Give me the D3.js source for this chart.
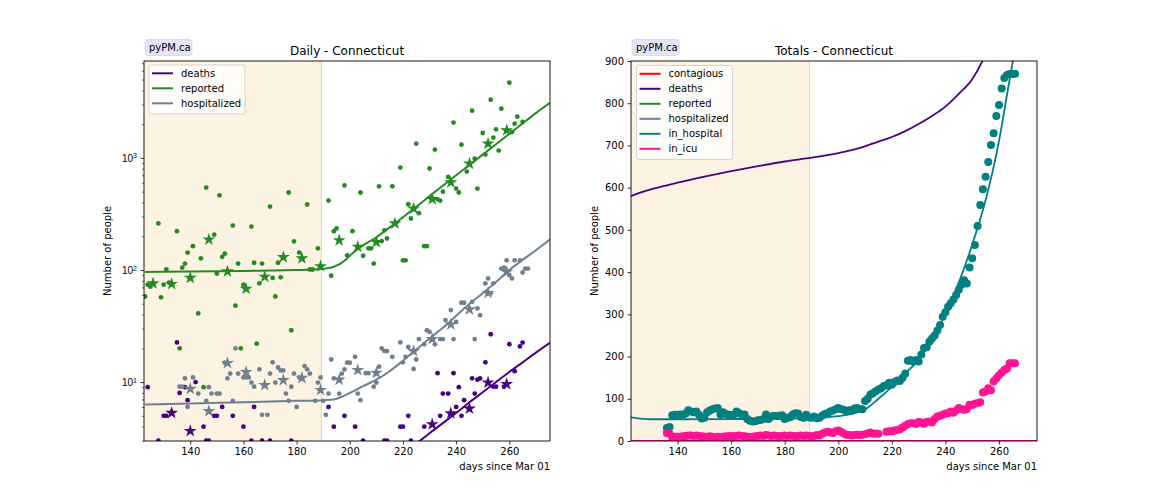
<!DOCTYPE html>
<html><head><meta charset="utf-8">
<script src="https://cdn.jsdelivr.net/npm/d3@7"></script>
<style>body{margin:0;background:#fff;} svg{display:block;font-family:"DejaVu Sans",sans-serif;}</style>
</head><body><svg id="c" width="1152" height="504"></svg>
<script>
// ---------------- data ----------------
const xTicks = [140, 160, 180, 200, 220, 240, 260];
const yTicksTotals = [0, 100, 200, 300, 400, 500, 600, 700, 800, 900];
const yTicksDailyMajor = [10, 100, 1000];
const shadeEndDay = 189.3;

const dailyLegend = ["deaths", "reported", "hospitalized"];
const totalsLegend = ["contagious", "deaths", "reported", "hospitalized", "in_hospital", "in_icu"];

// Daily panel: model lines
const reportedModel = [[123,96],[130,96.5],[140,97],[150,97.5],[160,98],[170,99],[180,100],[186,101],[189,102],[192,104],[194,107],[196,112],[198,121],[200,134],[202,148],[205,166],[210,196],[215,240],[220,296],[225,366],[230,456],[235,565],[240,700],[245,863],[250,1070],[255,1325],[260,1640],[265,2030],[270,2510],[275.3,3100]];
const hospitalizedModel = [[123,6.3],[140,6.45],[160,6.6],[180,6.8],[190,6.9],[194,7.0],[197,7.4],[200,8.0],[205,9.2],[210,10.5],[215,12.5],[220,15.5],[225,19.5],[230,24.5],[235,30.5],[240,39],[245,50],[250,62],[255,78],[260,100],[265,123],[270,150],[275.3,187]];
const deathsModel = [[215,1.9],[220,2.35],[226,2.95],[230,3.5],[235,4.3],[240,5.3],[245,6.6],[250,8.1],[255,10.0],[260,12.3],[265,15.0],[270,18.3],[275.3,22.4]];

// Daily panel: daily data
const reportedDaily = [[123,58],[124,74],[125,71],[128,260],[129,57],[130,74],[131,101],[132,77],[135,222],[136,20],[137,105],[138,114],[139,143],[141,163],[143,41],[144,127],[145,9],[146,543],[149,207],[150,93],[151,464],[152,131],[153,140],[156,249],[157,48],[158,114],[159,20],[160,74],[163,244],[164,116],[165,22],[166,76],[167,114],[170,368],[171,85],[172,58],[173,116],[174,86],[177,491],[178,29],[179,180],[181,143],[184,384],[185,101],[186,101],[188,156],[192,416],[193,89],[194,222],[195,235],[198,568],[199,135],[201,222],[204,491],[205,134],[207,156],[208,156],[209,114],[211,558],[212,181],[213,226],[214,191],[216,558],[219,820],[220,122],[221,122],[222,386],[223,288],[225,1340],[226,321],[228,163],[229,163],[230,804],[232,1186],[233,427],[234,416],[235,500],[237,677],[239,2065],[240,532],[241,491],[242,1312],[244,755],[246,2640],[247,986],[248,532],[250,1667],[251,1070],[253,3310],[254,1517],[255,1800],[256,1162],[257,2750],[260,4690],[261,1700],[262,2020],[263,2330],[265,2090]];
const hospitalizedDaily = [[136,9.1],[137,9.1],[138,10.8],[139,6.0],[141,11],[143,7.9],[146,6.8],[147,9.0],[148,7.9],[150,7.9],[151,7.9],[153,14.9],[154,10.8],[155,11.9],[156,6.8],[157,20],[158,11.9],[160,11],[161,11],[162,11],[163,9.9],[164,9.1],[166,13],[167,5.1],[169,5.1],[170,11.9],[171,15],[172,9.9],[173,13.5],[174,12.7],[175,12.7],[176,7.9],[177,6.8],[178,9.1],[179,11.9],[180,6.0],[181,11],[183,13.9],[184,13],[185,11.9],[187,6.8],[188,9.9],[189,11],[190,6.8],[191,5.1],[192,7.9],[193,15.9],[194,10.8],[196,7.9],[197,11.9],[198,13],[199,14.9],[200,14.9],[202,16.8],[203,7.9],[204,6.9],[206,12],[207,12],[209,9.1],[210,9.9],[211,13.7],[212,20],[213,18.9],[214,18.9],[216,16.8],[219,22.6],[220,15],[221,16.8],[222,20.6],[224,13.1],[225,15.9],[226,24.2],[228,21.7],[229,29],[230,28],[232,21.7],[234,24.2],[235,24.2],[236,35.7],[238,43.9],[239,24.2],[240,34.4],[242,51],[243,51],[246,52],[247,24.2],[248,45.4],[249,39.5],[251,75.9],[252,84],[253,62],[254,76],[257,103],[258,105],[259,122],[260,90],[261,84],[262,122],[264,122],[265,95],[266,103],[267,103]];
const deathsDaily = [[124,9],[128,3],[130,5],[131,5],[135,22.6],[136,8],[138,9],[139,6.9],[142,10],[145,4],[146,3],[147,3],[149,5],[150,5],[152,6],[156,5],[160,4],[163,3],[164,6],[167,3],[170,3],[178,3],[192,6],[194,4],[198,5],[202,4],[205,3],[213,3],[214,3],[219,4],[220,4],[222,5],[223,3],[228,4],[233,12],[234,5],[235,7.9],[237,7.9],[239,12],[240,6],[241,9],[242,5],[243,6.9],[246,10.8],[247,7.9],[248,10.5],[249,10.8],[251,15],[253,26.7],[254,9.1],[255,9.1],[258,9.1],[260,21.8],[262,12.5],[264,20.8],[265,22.5]];

// Daily panel: weekly averages (stars)
const reportedWeekly = [[126,76],[133,75],[140,85],[147,187],[154,97],[161,68],[168,87],[175,130],[182,127],[189,108],[196,184],[203,161],[210,177],[217,260],[224,353],[231,428],[238,605],[245,889],[252,1340],[259,1762]];
const hospitalizedWeekly = [[140,8.7],[147,5.5],[154,14.8],[161,12.3],[168,9.4],[175,10.4],[182,10.9],[189,8.5],[196,10.5],[203,12.8],[210,12.1],[224,18.9],[231,24.2],[238,32.7],[245,44.5],[252,62.3],[259,96]];
const deathsWeekly = [[133,5.3],[140,3.66],[231,4.2],[238,5.26],[245,5.8],[252,9.9],[259,9.6]];

// Totals panel: model lines
const deathsTotalModel = [[122.6,580],[125,586],[130,596],[135,604],[140,612],[145,619],[150,626],[160,639],[170,651],[180,662],[190,671],[200,682],[205,689],[210,698],[215,709],[220,720],[225,734],[230,751],[235,770],[240,792],[245,822],[250,857],[254,902],[256,930]];
const inHospitalModel = [[122.6,56],[126,53],[130,51.5],[140,51.5],[160,52],[180,53],[190,54],[195,56],[200,59],[205,64],[210,75],[215,100],[220,128],[225,160],[230,192],[235,240],[240,300],[245,375],[250,465],[255,570],[260,710],[263,820],[266,930]];
const inIcuModel = [[122.6,0],[274.2,0]];

// Totals panel: data
const inHospitalData = [[136,31],[137,33],[138,61],[139,62],[140,62],[141,63],[142,62],[143,65],[144,73],[145,70],[146,68],[147,70],[148,62],[149,53],[150,55],[151,68],[152,72],[153,75],[154,77],[155,78],[156,63],[157,68],[158,64],[159,62],[160,61],[161,62],[162,70],[163,66],[164,62],[165,63],[166,52],[167,48],[168,46],[169,47],[170,49],[171,50],[172,52],[173,63],[174,52],[175,58],[176,60],[177,59],[178,60],[179,61],[180,52],[181,55],[182,56],[183,63],[184,66],[185,65],[186,57],[187,55],[188,62],[189,56],[190,55],[191,58],[192,54],[193,55],[194,60],[195,64],[196,66],[197,70],[198,72],[199,75],[200,78],[201,75],[202,74],[203,71],[204,73],[205,72],[206,77],[207,78],[208,76],[209,75],[210,95],[211,100],[212,110],[213,113],[214,118],[215,122],[216,125],[217,130],[218,132],[219,138],[220,133],[221,140],[222,143],[223,142],[224,150],[225,160],[226,190],[227,192],[228,188],[229,192],[230,188],[231,205],[232,220],[233,222],[234,235],[235,243],[236,250],[237,262],[238,275],[239,294],[240,305],[241,318],[242,326],[243,335],[244,346],[245,358],[246,370],[247,381],[248,373],[249,411],[250,433],[251,464],[252,509],[253,559],[254,596],[255,626],[256,661],[257,701],[258,729],[259,770],[260,796],[261,835],[262,860],[263,867],[264,869],[265,869],[266,870]];
const inIcuData = [[136,19],[137,17],[138,9],[139,10],[140,10],[141,10],[142,11],[143,12],[144,13],[145,13],[146,12],[147,13],[148,12],[149,11],[150,10],[151,10],[152,11],[153,10],[154,9],[155,10],[156,9],[157,10],[158,11],[159,11],[160,12],[161,11],[162,12],[163,13],[164,12],[165,11],[166,10],[167,9],[168,10],[169,11],[170,12],[171,13],[172,12],[173,14],[174,13],[175,12],[176,13],[177,12],[178,11],[179,12],[180,13],[181,12],[182,13],[183,12],[184,11],[185,12],[186,13],[187,12],[188,13],[189,12],[190,11],[191,12],[192,14],[193,13],[194,17],[195,20],[196,22],[197,20],[198,19],[199,23],[200,25],[201,22],[202,18],[203,15],[204,14],[205,13],[206,14],[207,15],[208,14],[209,15],[210,16],[211,18],[212,20],[213,17],[214,18],[215,17],[218,22],[219,23],[220,23],[221,25],[222,26],[223,28],[224,32],[225,36],[226,40],[227,42],[228,42],[229,40],[230,45],[231,44],[232,41],[233,45],[234,46],[235,44],[236,52],[237,58],[238,60],[239,62],[240,65],[241,66],[242,70],[243,67],[244,72],[245,78],[246,76],[247,74],[248,76],[249,86],[250,85],[251,88],[252,90],[253,92],[254,115],[255,117],[256,125],[257,120],[258,141],[259,148],[260,156],[261,162],[262,168],[263,172],[264,184],[265,184],[266,184]];

// ---------------- styles ----------------
const COL = {deaths:"#4b0082", reported:"#228b22", hospitalized:"#708090", contagious:"#ff0000", in_hospital:"#008080", in_icu:"#ff1493"};

const svg = d3.select("#c");
const L = {x0:144, x1:550, y0:61, y1:441};
const R = {x0:631, x1:1037, y0:61, y1:441};

const xL = d3.scaleLinear([122.6, 275.3], [L.x0, L.x1]);
const yL = d3.scaleLog([2.98, 7320], [L.y1, L.y0]);
const xR = d3.scaleLinear([122.6, 274.2], [R.x0, R.x1]);
const yR = d3.scaleLinear([0, 900], [R.y1, R.y0]);

const defs = svg.append("defs");
defs.append("clipPath").attr("id","clipL").append("rect").attr("x",L.x0).attr("y",L.y0).attr("width",L.x1-L.x0).attr("height",L.y1-L.y0);
defs.append("clipPath").attr("id","clipR").append("rect").attr("x",R.x0).attr("y",R.y0).attr("width",R.x1-R.x0).attr("height",R.y1-R.y0);

function panelBase(P, x, title) {
  svg.append("rect").attr("x",P.x0).attr("y",P.y0).attr("width",x(shadeEndDay)-P.x0).attr("height",P.y1-P.y0)
     .attr("fill","#fdf3e2");
  svg.append("line").attr("x1",x(shadeEndDay)).attr("x2",x(shadeEndDay)).attr("y1",P.y0).attr("y2",P.y1)
     .attr("stroke","#ead3b1").attr("stroke-width",1);
  svg.append("text").attr("x",(P.x0+P.x1)/2).attr("y",54.5).attr("text-anchor","middle")
     .attr("font-size","12px").attr("fill","#000").text(title);
  svg.append("text").attr("transform",`translate(${P.x0-33},${(P.y0+P.y1)/2}) rotate(-90)`)
     .attr("text-anchor","middle").attr("font-size","10px").attr("fill","#000").text("Number of people");
  svg.append("text").attr("x",P.x1).attr("y",470).attr("text-anchor","end")
     .attr("font-size","10px").attr("fill","#000").text("days since Mar 01");
  svg.append("rect").attr("x",P.x0+1).attr("y",39.5).attr("width",47).attr("height",16).attr("rx",3)
     .attr("fill","#e4e4f8").attr("stroke","#d2d2ee").attr("stroke-width",0.8);
  svg.append("text").attr("x",P.x0+5).attr("y",51).attr("font-size","10px").attr("fill","#000").text("pyPM.ca");
}

panelBase(L, xL, "Daily - Connecticut");
panelBase(R, xR, "Totals - Connecticut");

function styleAxis(g) {
  g.select(".domain").remove();
  g.selectAll(".tick line").attr("stroke","#000").attr("stroke-width",0.8);
  g.selectAll(".tick text").attr("font-size","10px").attr("fill","#000").attr("font-family","DejaVu Sans, sans-serif");
}

[[L,xL],[R,xR]].forEach(([P,x]) => {
  const g = svg.append("g").attr("transform",`translate(0,${P.y1})`)
    .call(d3.axisBottom(x).tickValues(xTicks).tickFormat(d3.format("d")).tickSize(3.5).tickPadding(3.5));
  styleAxis(g);
});

{
  const g = svg.append("g").attr("transform",`translate(${R.x0},0)`)
    .call(d3.axisLeft(yR).tickValues(yTicksTotals).tickFormat(d3.format("d")).tickSize(3.5).tickPadding(3.5));
  styleAxis(g);
}
{
  const minor = [];
  [1,10,100,1000].forEach(b => { for (let k=2;k<=9;k++){ const v=b*k; if (v>=2.98 && v<=7320) minor.push(v);} });
  const gm = svg.append("g").attr("transform",`translate(${L.x0},0)`)
    .call(d3.axisLeft(yL).tickValues(minor).tickFormat("").tickSize(2));
  styleAxis(gm);
  gm.selectAll(".tick line").attr("stroke-width",0.6);
  const g = svg.append("g").attr("transform",`translate(${L.x0},0)`)
    .call(d3.axisLeft(yL).tickValues(yTicksDailyMajor).tickFormat("").tickSize(3.5).tickPadding(3.5));
  styleAxis(g);
  g.selectAll(".tick").each(function(d){
    const t = d3.select(this).append("text").attr("x",-7).attr("dy","0.32em").attr("text-anchor","end")
      .attr("font-size","10px").attr("fill","#000");
    t.append("tspan").text("10");
    t.append("tspan").attr("dy","-0.45em").attr("font-size","7px").text(String(Math.round(Math.log10(d))));
  });
}

const gL = svg.append("g").attr("clip-path","url(#clipL)");
const lineL = d3.line().x(d=>xL(d[0])).y(d=>yL(d[1])).curve(d3.curveMonotoneX);
const star = d3.symbol().type(d3.symbolStar).size(52);

function dailySeries(model, daily, weekly, color) {
  gL.append("path").datum(model).attr("d",lineL).attr("fill","none").attr("stroke",color).attr("stroke-width",2);
  gL.append("g").selectAll("circle").data(daily).join("circle")
    .attr("cx",d=>xL(d[0])).attr("cy",d=>yL(d[1])).attr("r",2.4).attr("fill",color);
  gL.append("g").selectAll("path").data(weekly).join("path")
    .attr("transform",d=>`translate(${xL(d[0])},${yL(d[1])})`).attr("d",star).attr("fill",color);
}
dailySeries(deathsModel, deathsDaily, deathsWeekly, COL.deaths);
dailySeries(reportedModel, reportedDaily, reportedWeekly, COL.reported);
dailySeries(hospitalizedModel, hospitalizedDaily, hospitalizedWeekly, COL.hospitalized);

const gR = svg.append("g").attr("clip-path","url(#clipR)");
const lineR = d3.line().x(d=>xR(d[0])).y(d=>yR(d[1])).curve(d3.curveMonotoneX);
gR.append("path").datum(deathsTotalModel).attr("d",lineR).attr("fill","none").attr("stroke",COL.deaths).attr("stroke-width",1.8);
gR.append("g").selectAll("circle").data(inHospitalData).join("circle")
  .attr("cx",d=>xR(d[0])).attr("cy",d=>yR(d[1])).attr("r",4).attr("fill",COL.in_hospital);
gR.append("path").datum(inHospitalModel).attr("d",lineR).attr("fill","none").attr("stroke",COL.in_hospital).attr("stroke-width",1.8);
gR.append("g").selectAll("circle").data(inIcuData).join("circle")
  .attr("cx",d=>xR(d[0])).attr("cy",d=>yR(d[1])).attr("r",4).attr("fill",COL.in_icu);
gR.append("path").datum(inIcuModel).attr("d",lineR).attr("fill","none").attr("stroke",COL.in_icu).attr("stroke-width",2);

[L,R].forEach(P => {
  svg.append("rect").attr("x",P.x0).attr("y",P.y0).attr("width",P.x1-P.x0).attr("height",P.y1-P.y0)
    .attr("fill","none").attr("stroke","#000").attr("stroke-width",0.9);
});

function legend(x, y, w, names) {
  const rowH = 15;
  const h = names.length*rowH + 4;
  svg.append("rect").attr("x",x).attr("y",y).attr("width",w).attr("height",h).attr("rx",2.5)
    .attr("fill","#ffffff").attr("fill-opacity",0.8).attr("stroke","#d0d0d0").attr("stroke-width",0.9);
  names.forEach((n,i) => {
    const cy = y + 8.3 + i*rowH;
    svg.append("line").attr("x1",x+3).attr("x2",x+24).attr("y1",cy).attr("y2",cy)
      .attr("stroke",COL[n]).attr("stroke-width",2);
    svg.append("text").attr("x",x+32).attr("y",cy+3.6).attr("font-size","10px").attr("fill","#000").text(n);
  });
}
legend(149, 65, 96, dailyLegend);
legend(636.5, 65.5, 96, totalsLegend);
</script></body></html>
